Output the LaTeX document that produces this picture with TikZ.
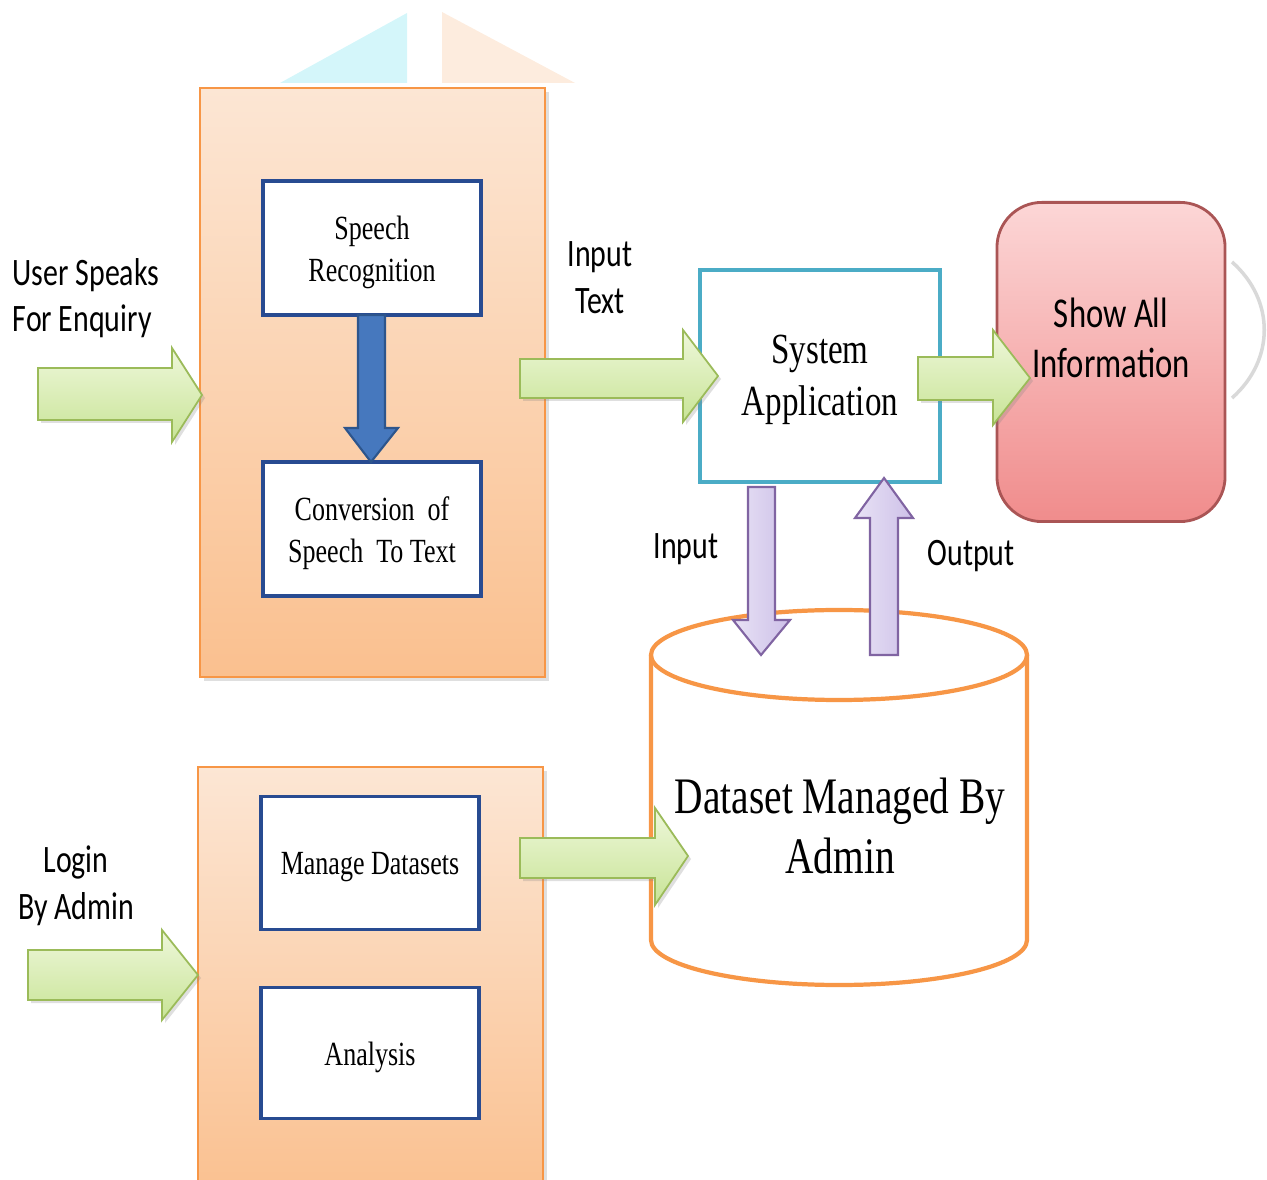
\documentclass[tikz,border=0pt]{standalone}
\usepackage{fontspec}
\setmainfont{Liberation Serif}
\newfontfamily\calfont{Carlito}
\usetikzlibrary{shadows}
\definecolor{panelline}{RGB}{247,150,70}
\definecolor{paneltop}{RGB}{252,230,212}
\definecolor{panelbot}{RGB}{250,192,143}
\definecolor{boxline}{RGB}{40,75,145}
\definecolor{gline}{RGB}{155,187,89}
\definecolor{gtop}{RGB}{238,247,218}
\definecolor{gbot}{RGB}{200,228,150}
\definecolor{pline}{RGB}{128,100,162}
\definecolor{ptop}{RGB}{232,226,245}
\definecolor{pbot}{RGB}{205,192,232}
\definecolor{bfill}{RGB}{70,120,190}
\definecolor{bline}{RGB}{45,85,140}
\definecolor{teal}{RGB}{75,172,198}
\definecolor{redtop}{RGB}{252,214,214}
\definecolor{redbot}{RGB}{240,140,140}
\definecolor{redline}{RGB}{170,85,85}
\definecolor{cyl}{RGB}{247,150,70}
\definecolor{faintcyan}{RGB}{212,246,250}
\definecolor{faintpeach}{RGB}{253,236,222}
\begin{document}
\begin{tikzpicture}[x=0.01cm,y=-0.01cm,
  panel/.style={draw=panelline,line width=0.6pt,top color=paneltop,bottom color=panelbot,
    drop shadow={shadow xshift=0.4mm,shadow yshift=-0.4mm,opacity=0.25}},
  innerbox/.style={draw=boxline,line width=1.1pt,fill=white,inner sep=0pt},
  garrow/.style={draw=gline,line width=0.5pt,top color=gtop,bottom color=gbot,
    drop shadow={shadow xshift=0.3mm,shadow yshift=-0.3mm,opacity=0.25}},
  parrow/.style={draw=pline,line width=0.6pt,left color=ptop,right color=pbot},
  barrow/.style={draw=bline,line width=0.6pt,fill=bfill},
  sanslabel/.style={font=\calfont\fontsize{8.5}{10.2}\selectfont,inner sep=0pt,yscale=1.3},
  seriftext/.style={font=\fontsize{7.4}{9.2}\selectfont,align=center,inner sep=0pt,yscale=1.3}]
\useasboundingbox (0,0) rectangle (1267,1180);
% faint background remnants
\fill[faintcyan] (280,83) -- (407,13) -- (407,83) -- cycle;
\fill[faintpeach] (442,12) -- (575,83) -- (442,83) -- cycle;
\draw[black!15,line width=1pt] (1232,262) .. controls (1275,300) and (1275,360) .. (1232,398);

% panels
\path[panel] (200,88) rectangle (545,677);
\path[panel] (198,767) rectangle (543,1200);

% inner boxes
\node[innerbox,minimum width=2.18cm,minimum height=1.34cm] (sr) at (372,248) {};
\node[seriftext] at ([yshift=-0.04cm]sr.center) {Speech\\Recognition};
\node[innerbox,minimum width=2.18cm,minimum height=1.34cm] (cv) at (372,529) {};
\node[seriftext] at ([yshift=-0.04cm]cv.center) {Conversion\ \ of\\Speech\ \ To Text};
\node[innerbox,minimum width=2.18cm,minimum height=1.33cm] (md) at (370,863) {};
\node[seriftext] at ([yshift=-0.04cm]md.center) {Manage Datasets};
\node[innerbox,minimum width=2.18cm,minimum height=1.31cm] (an) at (370,1053) {};
\node[seriftext] at ([yshift=-0.04cm]an.center) {Analysis};

% blue arrow
\path[barrow] (358,315) -- (385,315) -- (385,428) -- (398,428) -- (371,462) -- (345,428) -- (358,428) -- cycle;

% system application
\node[draw=teal,line width=1.1pt,fill=white,minimum width=2.4cm,minimum height=2.12cm] (sys) at (820,376) {};
\node[font=\fontsize{9.4}{11.4}\selectfont,align=center,inner sep=0pt,yscale=1.3] at (820,380) {System\\Application};

% show all information
\node[draw=redline,line width=0.8pt,rounded corners=0.45cm,top color=redtop,bottom color=redbot,
  minimum width=2.28cm,minimum height=3.19cm] (show) at (1111,362) {};
\node[font=\calfont\fontsize{9.3}{11}\selectfont,align=center,inner sep=0pt,yscale=1.3] at (1111,338) {Show All\\Information};

% cylinder
\path[draw=cyl,line width=1.2pt,fill=white] (651,655) -- (651,940) arc[start angle=180,end angle=0,x radius=188,y radius=45] -- (1027,655);
\draw[cyl,line width=1.2pt,fill=white] (839,655) ellipse[x radius=188,y radius=45];
\node[font=\fontsize{11.2}{13.1}\selectfont,align=center,inner sep=0pt,yscale=1.3] (ds) at (840,826) {Dataset Managed By\\Admin};

% purple arrows
\path[parrow] (748,487) -- (775,487) -- (775,620) -- (790,620) -- (761,655) -- (733,620) -- (748,620) -- cycle;
\path[parrow] (870,655) -- (898,655) -- (898,518) -- (913,518) -- (884,478) -- (855,518) -- (870,518) -- cycle;

% green arrows
\path[garrow] (38,368) -- (172,368) -- (172,348) -- (202,395) -- (172,442) -- (172,420) -- (38,420) -- cycle;
\path[garrow] (520,359) -- (683,359) -- (683,330) -- (718,376) -- (683,422) -- (683,398) -- (520,398) -- cycle;
\path[garrow] (918,357) -- (993,357) -- (993,330) -- (1030,378) -- (993,425) -- (993,400) -- (918,400) -- cycle;
\path[garrow] (520,838) -- (655,838) -- (655,808) -- (688,856) -- (655,905) -- (655,878) -- (520,878) -- cycle;
\path[garrow] (28,950) -- (162,950) -- (162,930) -- (198,975) -- (162,1020) -- (162,1000) -- (28,1000) -- cycle;

% labels
\node[sanslabel,align=left,anchor=west] (user) at (12,298) {User Speaks\\For Enquiry};
\node[sanslabel,align=center] (intext) at (600,278) {Input\\Text};
\node[sanslabel] (inlab) at (686,549) {Input};
\node[sanslabel] (outlab) at (971,556) {Output};
\node[sanslabel,align=center] (login) at (76,886) {Login\\By Admin};
\end{tikzpicture}
\end{document}
